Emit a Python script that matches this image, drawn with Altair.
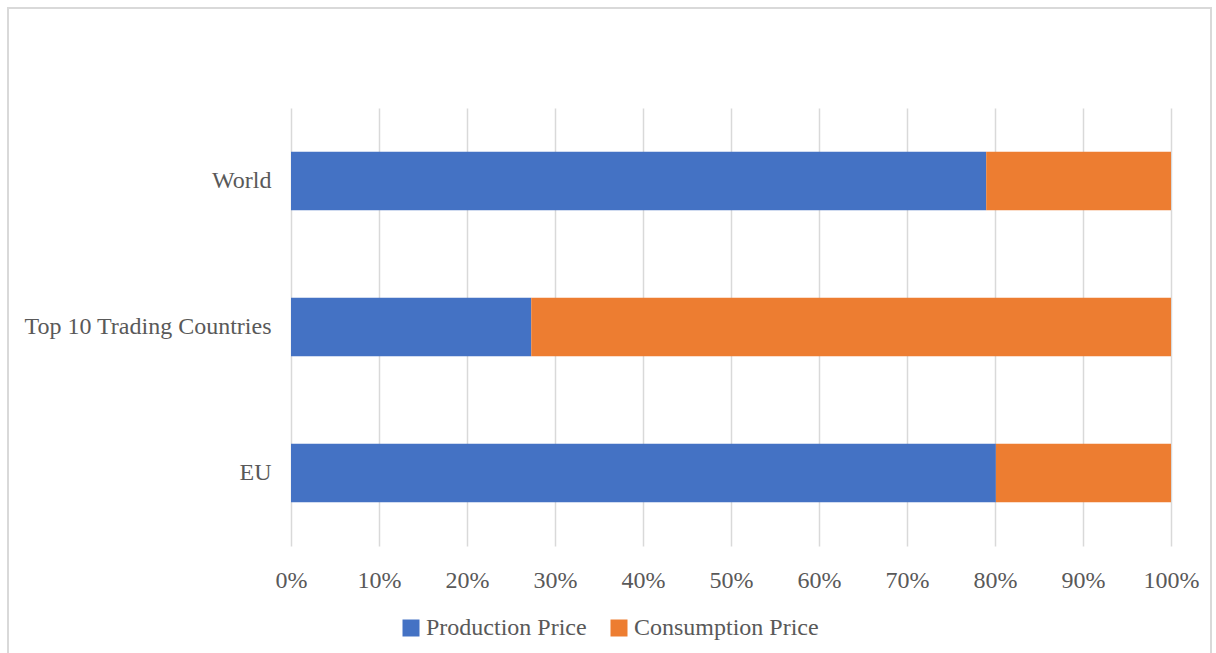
import altair as alt
import pandas as pd

regions = ["World", "Top 10 Trading Countries", "EU"]
production = [79.0, 27.3, 80.1]
consumption = [21.0, 72.7, 19.9]
series = ["Production Price", "Consumption Price"]
colors = ["#4472C4", "#ED7D31"]
ticks = [0, 0.1, 0.2, 0.3, 0.4, 0.5, 0.6, 0.7, 0.8, 0.9, 1.0]

rows = []
for r, p, c in zip(regions, production, consumption):
    rows.append({"region": r, "series": series[0], "value": p, "ord": 0})
    rows.append({"region": r, "series": series[1], "value": c, "ord": 1})
df = pd.DataFrame(rows)

FONT = "Liberation Serif"
TXT = "#595959"

bars = alt.Chart(df).mark_bar().encode(
    y=alt.Y("region:N", sort=regions, title=None,
            scale=alt.Scale(paddingInner=0.6, paddingOuter=0.3),
            axis=alt.Axis(domain=False, ticks=False, labelPadding=20,
                          labelFont=FONT, labelFontSize=24, labelColor=TXT,
                          labelLimit=400)),
    x=alt.X("value:Q", stack="normalize", title=None,
            scale=alt.Scale(domain=[0, 1], nice=False),
            axis=alt.Axis(values=ticks, format=".0%", domain=False, ticks=False,
                          grid=True, gridColor="#d9d9d9", gridWidth=1.5,
                          labelPadding=22, labelFont=FONT, labelFontSize=24,
                          labelColor=TXT, labelFlush=False)),
    color=alt.Color("series:N", title=None,
                    scale=alt.Scale(domain=series, range=colors),
                    legend=alt.Legend(orient="none", legendX=108, legendY=508,
                                      direction="horizontal", symbolType="square",
                                      symbolSize=289, symbolStrokeWidth=0,
                                      labelFont=FONT, labelFontSize=24,
                                      labelColor=TXT, labelOffset=3,
                                      columnPadding=20, labelLimit=400)),
    order=alt.Order("ord:Q"),
)

border = alt.Chart(alt.Data(values=[{"a": 1}])).mark_rect(
    filled=False, stroke="#d9d9d9", strokeWidth=2
).encode(
    x=alt.value(-283), x2=alt.value(920), y=alt.value(-100), y2=alt.value(560)
)

chart = alt.layer(bars, border).properties(
    width=880, height=438,
    autosize=alt.AutoSizeParams(type="none"),
    padding={"left": 291, "top": 108, "right": 45, "bottom": 107},
    background="white",
).configure_view(stroke=None)

chart.save("out.html", embed_options={"renderer": "svg", "actions": False})
